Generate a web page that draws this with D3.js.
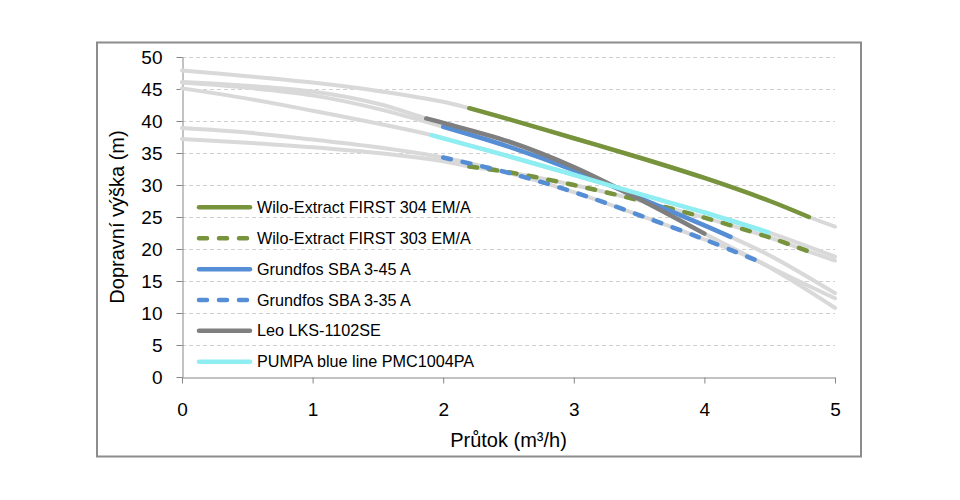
<!DOCTYPE html>
<html>
<head>
<meta charset="utf-8">
<script src="https://cdn.jsdelivr.net/npm/d3@7"></script>
<style>
  body { margin: 0; background: #fff; }
  svg { display: block; font-family: "Liberation Sans", Arial, Helvetica, sans-serif; }
</style>
</head>
<body>
<svg id="chart" width="960" height="500"></svg>
<script>
// ---- Data ----
const seriesNames = [
  "Wilo-Extract FIRST 304 EM/A",
  "Wilo-Extract FIRST 303 EM/A",
  "Grundfos SBA 3-45 A",
  "Grundfos SBA 3-35 A",
  "Leo LKS-1102SE",
  "PUMPA blue line PMC1004PA"
];
// flow (m3/h) and head (m) for each pump curve
const wilo304Q = [0, 0.5, 1.0, 1.5, 2.0, 2.2, 2.5, 3.0, 3.5, 4.0, 4.5, 4.8, 5.0];
const wilo304H = [47.9, 47.0, 46.0, 44.7, 43.0, 42.0, 40.3, 37.3, 34.3, 31.1, 27.5, 25.0, 23.5];
const wilo303Q = [0, 0.5, 1.0, 1.5, 2.0, 2.2, 2.5, 3.0, 3.5, 4.0, 4.5, 4.8, 5.0];
const wilo303H = [37.2, 36.6, 35.9, 35.0, 33.7, 32.9, 32.0, 30.0, 27.6, 24.9, 21.8, 19.6, 18.2];
const sba345Q = [0, 0.5, 1.0, 1.5, 2.0, 2.5, 3.0, 3.5, 4.0, 4.2, 4.5, 5.0];
const sba345H = [46.0, 45.2, 44.0, 41.9, 39.1, 36.0, 32.3, 28.0, 23.7, 21.9, 19.0, 13.1];
const sba335Q = [0, 0.5, 1.0, 1.5, 2.0, 2.5, 3.0, 3.5, 4.0, 4.4, 5.0];
const sba335H = [38.9, 38.2, 37.1, 35.9, 34.3, 31.9, 28.9, 25.3, 21.5, 18.2, 10.8];
const leoQ = [0, 0.5, 1.0, 1.5, 1.87, 2.0, 2.5, 3.0, 3.5, 4.0, 4.5, 5.0];
const leoH = [46.1, 45.5, 44.6, 42.7, 40.4, 39.7, 36.8, 32.8, 27.8, 22.4, 17.2, 12.3];
const pumpaQ = [0, 0.5, 1.0, 1.5, 1.91, 2.5, 3.0, 3.5, 4.0, 4.49, 5.0];
const pumpaH = [45.1, 43.5, 41.6, 39.6, 37.8, 34.5, 31.6, 28.6, 25.7, 22.6, 18.8];
// highlighted (coloured) flow range of each curve
const highlightFrom = [2.2, 2.2, 2.0, 2.0, 1.87, 1.91];
const highlightTo   = [4.8, 4.8, 4.2, 4.4, 4.0, 4.49];
const seriesColors = ["#77933c", "#77933c", "#558ed5", "#558ed5", "#7f7f7f", "#8eeef2"];
const seriesDashed = [false, true, false, true, false, false];
const yTicks = [0, 5, 10, 15, 20, 25, 30, 35, 40, 45, 50];
const xTicks = [0, 1, 2, 3, 4, 5];
const xTitle = "Průtok (m³/h)";
const yTitle = "Dopravní výška (m)";

const flows = [wilo304Q, wilo303Q, sba345Q, sba335Q, leoQ, pumpaQ];
const heads = [wilo304H, wilo303H, sba345H, sba335H, leoH, pumpaH];
const series = seriesNames.map((name, i) => ({
  name,
  points: flows[i].map((q, j) => ({ q, h: heads[i][j] })),
  from: highlightFrom[i],
  to: highlightTo[i],
  color: seriesColors[i],
  dashed: seriesDashed[i]
}));

// ---- Layout ----
const svg = d3.select("#chart");
const pL = 182, pR = 835, pT = 57, pB = 377;
const x = d3.scaleLinear().domain([0, 5]).range([pL, pR]);
const y = d3.scaleLinear().domain([0, 50]).range([pB, pT]);

// frame
svg.append("rect")
  .attr("x", 97).attr("y", 42.5).attr("width", 764).attr("height", 414)
  .attr("fill", "none").attr("stroke", "#8c8c8c").attr("stroke-width", 2);

// grid
svg.append("g").selectAll("line").data(yTicks.filter(d => d > 0)).join("line")
  .attr("x1", pL).attr("x2", pR)
  .attr("y1", d => Math.round(y(d)) + 0.5).attr("y2", d => Math.round(y(d)) + 0.5)
  .attr("stroke", "#d0d0d0").attr("stroke-width", 1).attr("stroke-dasharray", "4,3");

// axes
const yAxis = d3.axisLeft(y).tickValues(yTicks).tickFormat(d3.format("d"))
  .tickSize(6).tickPadding(14).tickSizeOuter(0);
const xAxis = d3.axisBottom(x).tickValues(xTicks).tickFormat(d3.format("d"))
  .tickSize(6).tickPadding(19).tickSizeOuter(0);
const gy = svg.append("g").attr("transform", `translate(${pL + 0.5},0)`).call(yAxis);
const gx = svg.append("g").attr("transform", `translate(0,${pB + 0.5})`).call(xAxis);
[gx, gy].forEach(g => {
  g.selectAll("path, line").attr("stroke", "#868686");
  g.selectAll("text").attr("font-size", 19).attr("fill", "#000")
    .attr("font-family", "'Liberation Sans', Arial, sans-serif");
});

// titles
svg.append("text").attr("x", (pL + pR) / 2).attr("y", 447)
  .attr("text-anchor", "middle").attr("font-size", 20).text(xTitle);
svg.append("text").attr("transform", `translate(124,${(pT + pB) / 2}) rotate(-90)`)
  .attr("text-anchor", "middle").attr("font-size", 20).text(yTitle);

// curves
const line = d3.line().x(d => x(d.q)).y(d => y(d.h)).curve(d3.curveCatmullRom.alpha(0.5));
const plot = svg.append("g");
plot.selectAll("path.gray").data(series).join("path")
  .attr("class", "gray")
  .attr("d", d => line(d.points))
  .attr("fill", "none").attr("stroke", "#d9d9d9").attr("stroke-width", 4)
  .attr("stroke-linecap", "round");
plot.selectAll("path.col").data(series).join("path")
  .attr("class", "col")
  .attr("d", d => line(d.points.filter(p => p.q >= d.from - 1e-9 && p.q <= d.to + 1e-9)))
  .attr("fill", "none").attr("stroke", d => d.color).attr("stroke-width", 4.5)
  .attr("stroke-linecap", "round")
  .attr("stroke-dasharray", d => d.dashed ? "8,12" : null);

// legend
const legendY = [207.3, 238.3, 269.3, 300, 330.7, 361.7];
const lg = svg.append("g");
const items = lg.selectAll("g").data(series).join("g")
  .attr("transform", (d, i) => `translate(0,${legendY[i]})`);
items.append("line").attr("x1", 199).attr("x2", 250).attr("y1", 0).attr("y2", 0)
  .attr("stroke", d => d.color).attr("stroke-width", 4.5).attr("stroke-linecap", "round")
  .attr("stroke-dasharray", d => d.dashed ? "8,12" : null);
items.append("text").attr("x", 257).attr("y", 0).attr("dy", "0.35em")
  .attr("font-size", 16.2).text(d => d.name);
</script>
</body>
</html>
